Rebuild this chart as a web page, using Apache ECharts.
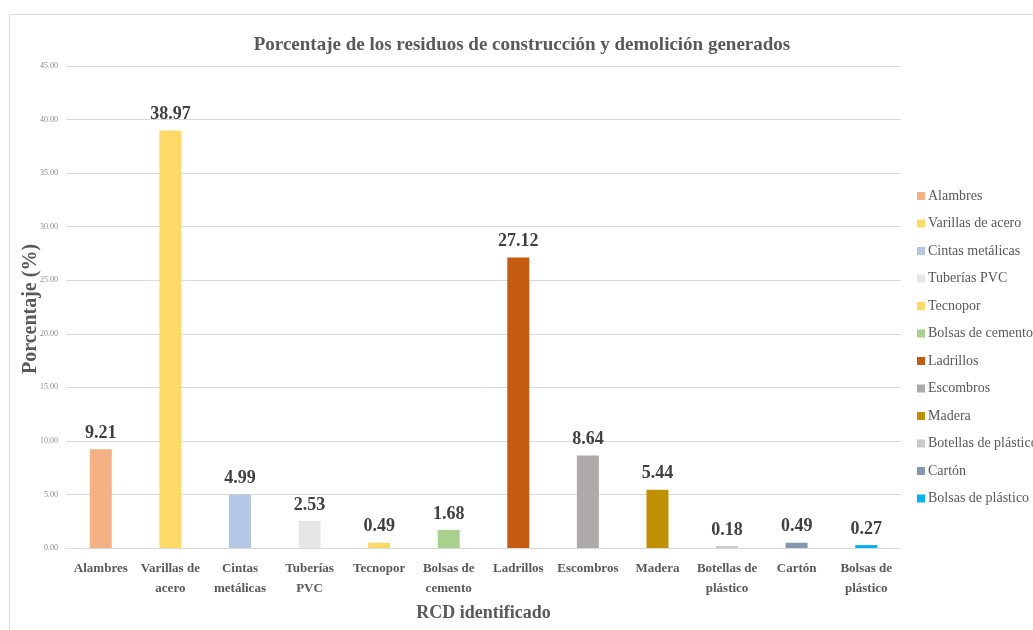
<!DOCTYPE html>
<html>
<head>
<meta charset="utf-8">
<script src="https://cdn.jsdelivr.net/npm/echarts@6/dist/echarts.min.js"></script>
<style>
  html, body { margin: 0; padding: 0; background: #fff; }
  #frame { position: absolute; left: 9px; top: 14px; width: 1040px; height: 640px; border: 1px solid #d9d9d9; }
  #chart { position: absolute; left: 0; top: 0; width: 1033px; height: 630px; }
</style>
</head>
<body>
<div id="frame"></div>
<div id="chart"></div>
<script>
// datos del gráfico
const categories = ["Alambres", "Varillas de acero", "Cintas metálicas", "Tuberías PVC", "Tecnopor",
  "Bolsas de cemento", "Ladrillos", "Escombros", "Madera", "Botellas de plástico", "Cartón", "Bolsas de plástico"];
const axisLabels = ["Alambres", "Varillas de\nacero", "Cintas\nmetálicas", "Tuberías\nPVC", "Tecnopor",
  "Bolsas de\ncemento", "Ladrillos", "Escombros", "Madera", "Botellas de\nplástico", "Cartón", "Bolsas de\nplástico"];
const values = [9.21, 38.97, 4.99, 2.53, 0.49, 1.68, 27.12, 8.64, 5.44, 0.18, 0.49, 0.27];
const colors = ["#F4B183", "#FFD966", "#B4C7E7", "#E7E6E6", "#FFD966", "#A9D18E",
  "#C55A11", "#AEAAAA", "#BF9000", "#C9C9C9", "#8497B0", "#00B0F0"];

const serif = "Liberation Serif";
var myChart = echarts.init(document.getElementById("chart"), null, { renderer: "canvas" });

var series = categories.map(function (name, i) {
  return {
    name: name,
    type: "bar",
    barWidth: 22,
    barGap: "-100%",
    itemStyle: { color: colors[i] },
    label: {
      show: true,
      position: "top",
      distance: 7,
      color: "#404040",
      fontFamily: serif,
      fontWeight: "bold",
      fontSize: 18,
      formatter: function (p) { return p.value.toFixed(2); },
    },
    data: values.map(function (v, j) { return j === i ? v : null; }),
  };
});

var option = {
  animation: false,
  title: {
    text: "Porcentaje de los residuos de construcción y demolición generados",
    left: 517,
    top: 31,
    textAlign: "center",
    textStyle: { color: "#595959", fontFamily: serif, fontWeight: "bold", fontSize: 19 },
  },
  legend: {
    orient: "vertical",
    left: 912,
    top: 184,
    itemWidth: 8,
    itemHeight: 8,
    itemGap: 13.5,
    icon: "rect",
    textStyle: { color: "#595959", fontFamily: serif, fontSize: 14, padding: [0, 0, 0, -2] },
    data: categories,
  },
  // título del eje Y (el nombre del eje se desplaza solo, así que va como texto aparte)
  graphic: [
    {
      type: "text",
      x: 31,
      y: 309,
      rotation: Math.PI / 2,
      style: {
        text: "Porcentaje (%)",
        fill: "#595959",
        font: "bold 20px 'Liberation Serif'",
        align: "center",
        verticalAlign: "middle",
      },
    },
  ],
  grid: { left: 66, right: 132, top: 66, bottom: 82, outerBoundsMode: "none" },
  xAxis: {
    type: "category",
    data: axisLabels,
    axisTick: { show: false },
    axisLine: { lineStyle: { color: "#D9D9D9" } },
    axisLabel: {
      interval: 0,
      margin: 11,
      color: "#595959",
      fontFamily: serif,
      fontWeight: "bold",
      fontSize: 13,
      lineHeight: 20,
    },
    name: "RCD identificado",
    nameLocation: "middle",
    nameGap: 55,
    nameTextStyle: { color: "#595959", fontFamily: serif, fontWeight: "bold", fontSize: 18 },
  },
  yAxis: {
    type: "value",
    min: 0,
    max: 45,
    interval: 5,
    axisLine: { show: false },
    axisTick: { show: false },
    splitLine: { lineStyle: { color: "#D9D9D9" } },
    axisLabel: {
      color: "#8c8c8c",
      fontFamily: serif,
      fontSize: 8,
      margin: 8,
      formatter: function (v) { return v.toFixed(2); },
    },
  },
  series: series,
};
myChart.setOption(option);
</script>
</body>
</html>
